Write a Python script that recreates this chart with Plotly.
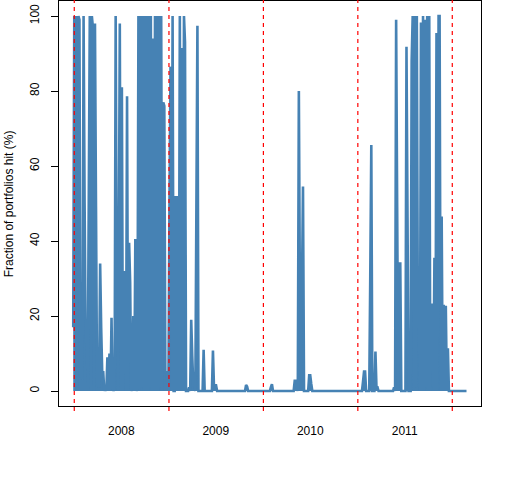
import pandas as pd
import plotly.graph_objects as go

# fraction of portfolios hit (%), one reading every 4 days from the start date
start_date = "2007-12-28"
step = "4D"
hit_pct = [
    17, 100, 2, 100, 1, 100, 99, 4, 4, 3,
    100, 50, 13, 13, 2, 50, 100, 0, 100, 97,
    0, 98, 49, 2, 2, 1, 34, 17, 5, 5,
    0, 1, 0, 9, 0, 10, 0, 19.5, 1, 0,
    1, 100, 29, 0, 34, 98, 0, 81, 0, 32,
    16, 0, 78.6, 0, 39.5, 29, 0, 1, 20, 0,
    40.5, 0, 1, 100, 0, 100, 1, 100, 0, 100,
    0, 100, 0, 100, 1, 100, 0, 94, 0, 100,
    0, 100, 0, 100, 1, 100, 0, 77, 76, 5,
    5, 2, 2, 50, 86.5, 0, 100, 0, 0, 52,
    0, 52, 0, 100, 0, 91.5, 0, 100, 93, 0,
    0, 0, 1, 0, 19, 9.3, 1.5, 1.5, 0, 49,
    97.4, 0, 0, 0, 0, 0, 11, 0, 0, 0,
    0, 0, 0, 0, 0, 10.8, 1, 1.5, 1.5, 0,
    0, 0, 0, 0, 0, 0, 0, 0, 0, 0,
    0, 0, 0, 0, 0, 0, 0, 0, 0, 0,
    0, 0, 0, 0, 0, 0, 0, 1.6, 1.2, 0,
    0, 0, 0, 0, 0, 0, 0, 0, 0, 0,
    0, 0, 0, 0, 0, 0, 0, 0, 0, 0,
    0, 1, 1.8, 0, 0, 0, 0, 0, 0, 0,
    0, 0, 0, 0, 0, 0, 0, 0, 0, 0,
    0, 0, 0, 0, 2.7, 2.7, 1, 0, 80, 27,
    27, 27, 54.5, 0, 0, 0, 0, 0, 4.2, 4.2,
    1.9, 0, 0, 0, 0, 0, 0, 0, 0, 0,
    0, 0, 0, 0, 0, 0, 0, 0, 0, 0,
    0, 0, 0, 0, 0, 0, 0, 0, 0, 0,
    0, 0, 0, 0, 0, 0, 0, 0, 0, 0,
    0, 0, 0, 0, 0, 0, 0, 0, 0, 0,
    2.5, 5.2, 5.2, 0, 0, 0, 0, 30.5, 65.6, 0,
    0, 0, 10.5, 1, 1, 0, 0, 0, 0, 0,
    0, 0, 0, 0, 0, 0, 0, 0, 0, 0,
    1, 0, 99, 49, 0, 34, 34, 0, 0, 0,
    0, 0, 91.8, 46, 0, 0, 0, 88, 100, 0,
    100, 1, 100, 17, 17, 0, 98.3, 0, 100, 0,
    99, 1, 100, 0, 100, 0, 23, 23, 0, 35.5,
    0, 95.5, 0, 100, 100, 0, 46.5, 0, 23, 0,
    22.7, 0, 11.4, 0, 0, 0, 0, 0, 0, 0,
    0, 0, 0, 0, 0, 0, 0, 0, 0, 0,
    0,
]

year_breaks = ["2008-01-01", "2009-01-01", "2010-01-01", "2011-01-01", "2012-01-01"]
year_mid = ["2008-07-01", "2009-07-01", "2010-07-01", "2011-07-01"]
year_labels = ["2008", "2009", "2010", "2011"]
y_ticks = [0, 20, 40, 60, 80, 100]

dates = pd.date_range(start=start_date, periods=len(hit_pct), freq=step)

fig = go.Figure()
# simplify off, otherwise plotly merges the up/down zigzag into single strokes;
# the fill under the zigzag keeps the dense stretches solid like the daily original
fig.add_trace(go.Scatter(x=dates, y=hit_pct, mode="lines",
                         line=dict(color="#4682B4", width=2.6, simplify=False),
                         fill="tozeroy", fillcolor="#4682B4",
                         showlegend=False, hoverinfo="skip"))

for d in year_breaks:
    fig.add_shape(type="line", xref="x", yref="paper", x0=d, x1=d,
                  y0=-0.0125, y1=1.003,
                  line=dict(color="#FF0000", width=1.2, dash="4px,4px"))

fig.add_annotation(text="Fraction of portfolios hit (%)", xref="paper", yref="paper",
                   x=-0.119, y=0.5, xanchor="center", yanchor="middle",
                   textangle=-90, showarrow=False,
                   font=dict(size=12, color="black"))

axis_style = dict(showline=True, mirror=True, linecolor="black", linewidth=1,
                  showgrid=False, zeroline=False)

fig.update_xaxes(range=["2007-11-03", "2012-04-21"], tickvals=year_mid,
                 ticktext=year_labels, ticks="", ticklabelstandoff=14,
                 **axis_style)
fig.update_yaxes(range=[-4, 104], tickvals=y_ticks, ticks="outside",
                 ticklen=7, tickcolor="black", tickwidth=1, tickangle=-90,
                 ticklabelstandoff=7, **axis_style)

fig.update_layout(width=512, height=480, margin=dict(l=59, r=31, t=1, b=74),
                  paper_bgcolor="white", plot_bgcolor="white",
                  font=dict(family="Liberation Sans, Arial", size=12, color="black"))

# the page's default 8px body margin would push the whole chart off
fig.write_html("out.html", config={"displayModeBar": False},
               post_script="document.body.style.margin='0';")
